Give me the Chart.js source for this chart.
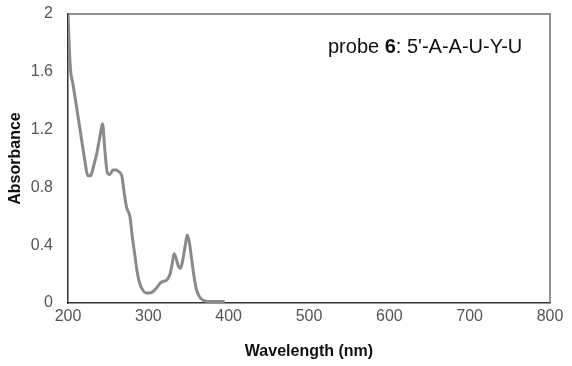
<!DOCTYPE html>
<html>
<head>
<meta charset="utf-8">
<script src="https://cdn.jsdelivr.net/npm/chart.js@4.4.1/dist/chart.umd.min.js"></script>
<style>
  html, body { margin: 0; padding: 0; background: #fff; }
  #wrap { width: 572px; height: 366px; }
</style>
</head>
<body>
<div id="wrap"><canvas id="chart" width="572" height="366"></canvas></div>
<script>
// spectrum
const wavelengths = [200, 201, 203, 206, 210, 215, 220, 225, 228, 232, 236, 240, 243, 246, 249, 252, 256, 260, 263, 267, 270, 273, 277, 280, 283, 286, 289, 293, 297, 302, 306, 311, 315, 319, 323, 327, 330, 332, 334, 337, 340, 343, 346, 348.5, 351, 354, 357, 360, 364, 368, 375, 385, 395];
const absorbance = [2.0, 1.85, 1.62, 1.52, 1.38, 1.2, 1.02, 0.88, 0.88, 0.95, 1.04, 1.16, 1.24, 1.05, 0.9, 0.89, 0.92, 0.92, 0.91, 0.88, 0.76, 0.66, 0.6, 0.46, 0.34, 0.22, 0.14, 0.09, 0.07, 0.07, 0.08, 0.11, 0.14, 0.15, 0.16, 0.2, 0.28, 0.34, 0.32, 0.26, 0.24, 0.3, 0.4, 0.47, 0.42, 0.3, 0.18, 0.09, 0.04, 0.02, 0.01, 0.01, 0.01];

const xTicks = [200, 300, 400, 500, 600, 700, 800];
const yTicks = [0, 0.4, 0.8, 1.2, 1.6, 2];

const probeLabel = ['probe ', '6', ": 5'-A-A-U-Y-U"];

const FONT = '"Liberation Sans", Arial, sans-serif';
const points = wavelengths.map((w, i) => ({ x: w, y: absorbance[i] }));

// box border on top/right plus the annotation text
const extras = {
    id: 'extras',
    afterDraw(chart) {
        const { ctx, chartArea: a } = chart;
        ctx.save();
        ctx.strokeStyle = '#6e6e6e';
        ctx.lineWidth = 1.5;
        ctx.beginPath();
        ctx.moveTo(a.left, a.top);
        ctx.lineTo(a.right, a.top);
        ctx.lineTo(a.right, a.bottom);
        ctx.stroke();

        ctx.fillStyle = '#111';
        ctx.textBaseline = 'alphabetic';
        let x = 328;
        const y = 53;
        probeLabel.forEach((part, i) => {
            ctx.font = (i === 1 ? 'bold ' : '') + '20px ' + FONT;
            ctx.fillText(part, x, y);
            x += ctx.measureText(part).width;
        });
        ctx.restore();
    }
};

new Chart(document.getElementById('chart'), {
    type: 'line',
    data: {
        datasets: [{
            data: points,
            borderColor: '#8a8a8a',
            borderWidth: 3,
            pointRadius: 0,
            cubicInterpolationMode: 'monotone',
            fill: false
        }]
    },
    options: {
        responsive: false,
        animation: false,
        layout: { padding: { top: 14, right: 22, left: 0, bottom: 0 } },
        plugins: { legend: { display: false }, tooltip: { enabled: false } },
        scales: {
            x: {
                type: 'linear',
                min: 200,
                max: 800,
                afterBuildTicks: s => { s.ticks = xTicks.map(v => ({ value: v })); },
                afterFit: s => { s.height = 63; s.paddingLeft = 0; s.paddingRight = 0; },
                grid: { display: false, drawTicks: true, tickLength: 5, tickColor: '#333' },
                border: { color: '#333', width: 1.5 },
                ticks: { color: '#555', font: { family: FONT, size: 16, lineHeight: 1 }, padding: 1 },
                title: { display: true, text: 'Wavelength (nm)', color: '#111', font: { family: FONT, size: 16, weight: 'bold' }, padding: { top: 0, bottom: 5 } }
            },
            y: {
                min: 0,
                max: 2,
                afterBuildTicks: s => { s.ticks = yTicks.map(v => ({ value: v })); },
                afterFit: s => { s.width = 68; s.paddingTop = 0; s.paddingBottom = 0; },
                grid: { display: false, drawTicks: true, tickLength: 5, tickColor: '#333' },
                border: { color: '#333', width: 1.5 },
                ticks: { color: '#555', font: { family: FONT, size: 16 }, padding: 10, callback: v => String(v) },
                title: { display: true, text: 'Absorbance', color: '#111', font: { family: FONT, size: 16, weight: 'bold' }, padding: { top: 6, bottom: 0 } }
            }
        }
    },
    plugins: [extras]
});
</script>
</body>
</html>
